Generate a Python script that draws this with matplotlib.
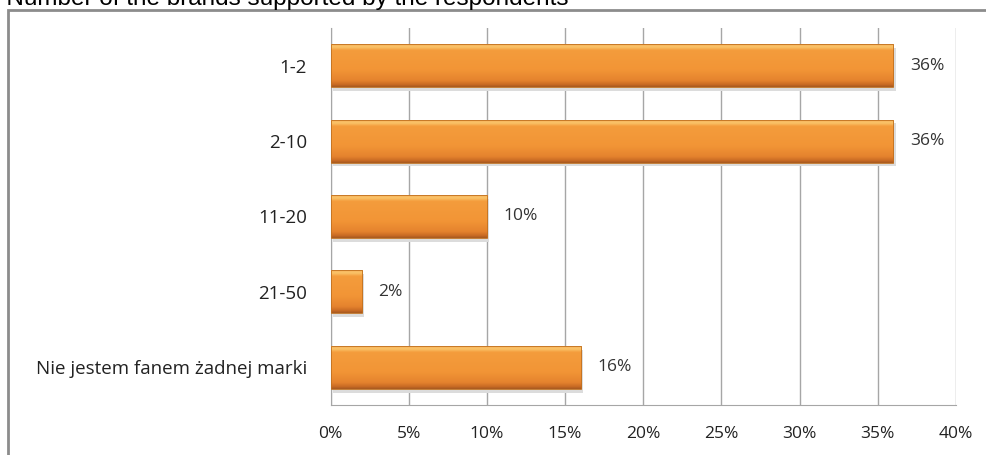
import numpy as np
import matplotlib.pyplot as plt
from matplotlib.patches import Rectangle
from matplotlib.colors import LinearSegmentedColormap

categories = ['1-2', '2-10', '11-20', '21-50', 'Nie jestem fanem żadnej marki']
values = [36, 36, 10, 2, 16]
xticks = [0, 5, 10, 15, 20, 25, 30, 35, 40]
title = '▪ Number of the brands supported by the respondents'

W, H = 987, 455
fig = plt.figure(figsize=(W / 100, H / 100), dpi=100)
fig.patch.set_facecolor('white')

# outer frame (right and bottom edges run off the picture)
fig.add_artist(Rectangle((8 / W, -0.1), 1.2, (H - 9.5) / H + 0.1, transform=fig.transFigure,
                         fill=False, edgecolor='#8c8c8c', lw=2))
fig.text(-9 / W, 1 - 5 / H, title, ha='left', va='baseline', fontsize=17.5,
         family=['Liberation Sans', 'DejaVu Sans'], color='black')

ax = fig.add_axes([330.5 / W, 1 - 405 / H, (956 - 330.5) / W, (405 - 28) / H])
y = np.arange(len(categories))
bars = ax.barh(y, values, height=0.57, color='#F39A3A', lw=0, zorder=3)

# bevelled look: thin light band on top, flat orange body, darker bottom edge
grad = np.linspace(0, 1, 100).reshape(-1, 1)
cmap = LinearSegmentedColormap.from_list('o', [
    (0.0, '#F7B25A'), (0.06, '#FAC46A'), (0.14, '#F49C3C'), (0.6, '#F29536'),
    (0.85, '#E5832E'), (0.95, '#C86A24'), (1.0, '#A85A20')])
for b in bars:
    x0, y0, w, h = b.get_x(), b.get_y(), b.get_width(), b.get_height()
    ax.add_patch(Rectangle((x0 + 0.15, y0 + 0.05), w, h, color='#dcdcdc', zorder=2, lw=0))
    ax.imshow(grad, extent=[x0, x0 + w, y0 + h, y0], aspect='auto', cmap=cmap,
              zorder=4, interpolation='bilinear')
    ax.add_patch(Rectangle((x0, y0), w, h, fill=False, edgecolor='#C0701F', lw=0.6, zorder=5))

for v, yy in zip(values, y):
    ax.text(v + 1.05, yy, f'{v}%', va='center', ha='left', fontsize=12.5,
            color='#333333', family='Open Sans')

ax.set_xlim(0, 40)
ax.set_ylim(len(categories) - 0.5, -0.5)
ax.set_xticks(xticks)
ax.set_xticklabels([f'{t}%' for t in xticks], fontsize=12.5, color='#222222', family='Open Sans')
ax.set_yticks(y)
ax.set_yticklabels(categories, fontsize=13.5, color='#222222', family='Open Sans')
ax.tick_params(axis='x', length=0, pad=15)
ax.tick_params(axis='y', length=0, pad=17)
ax.grid(axis='x', color='#a6a6a6', lw=1, zorder=0)
for s in ['top', 'right']:
    ax.spines[s].set_visible(False)
for s in ['left', 'bottom']:
    ax.spines[s].set_color('#a6a6a6')

fig.savefig('out.png', dpi=100, facecolor='white')
